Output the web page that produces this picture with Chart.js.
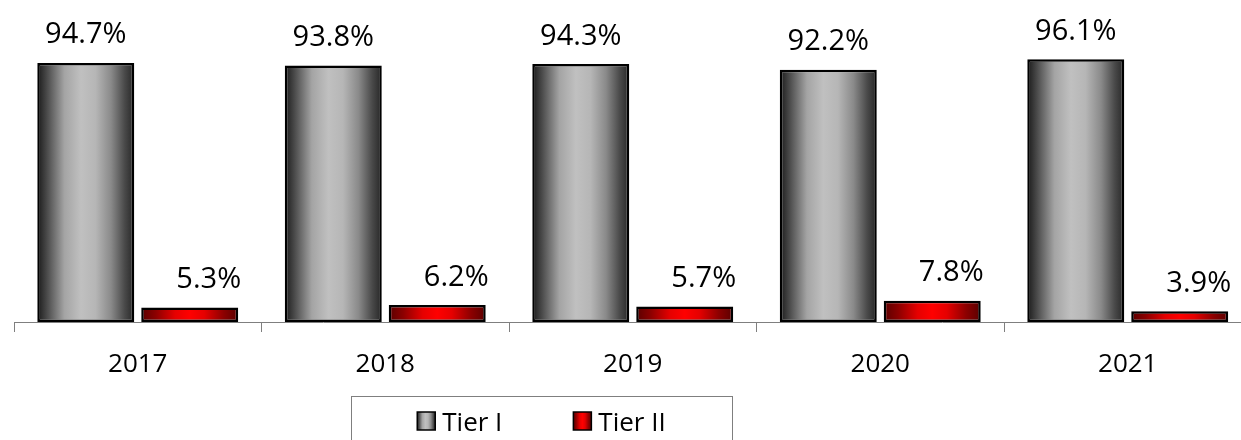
<!DOCTYPE html>
<html>
<head>
<meta charset="utf-8">
<script src="https://cdn.jsdelivr.net/npm/chart.js@4.4.1/dist/chart.umd.min.js"></script>
<style>
  html, body { margin: 0; padding: 0; background: #ffffff; overflow: hidden; }
  #wrap { width: 1241px; height: 440px; position: relative; overflow: hidden; }
  #chart { position: absolute; left: 0; top: 0; }
</style>
</head>
<body>
<div id="wrap"><canvas id="chart" width="1252" height="440"></canvas></div>
<script>
// Share of capital by tier, per year
const years = ['2017', '2018', '2019', '2020', '2021'];
const tierI = [94.7, 93.8, 94.3, 92.2, 96.1];
const tierII = [5.3, 6.2, 5.7, 7.8, 3.9];
const seriesNames = ['Tier I', 'Tier II'];

const FONT = '"Open Sans", "Noto Sans", sans-serif';
const CAT_PCT = 0.84;
const BAR_PCT = 0.933;

// Horizontal "cylinder" shading used for bars and legend swatches
const grayStops = [
  [0, '#1a1a1a'], [0.1, '#4a4a4a'], [0.28, '#a4a4a4'], [0.45, '#c0c0c0'],
  [0.6, '#b6b6b6'], [0.76, '#8a8a8a'], [0.9, '#4a4a4a'], [1, '#262626']
];
const redStops = [
  [0, '#5a0000'], [0.15, '#8c0000'], [0.35, '#e60000'], [0.5, '#ff0000'],
  [0.65, '#e60000'], [0.85, '#8c0000'], [1, '#5a0000']
];

function makeGradient(c2d, x0, x1, stops) {
  const g = c2d.createLinearGradient(x0, 0, x1, 0);
  stops.forEach(([o, col]) => g.addColorStop(o, col));
  return g;
}

// Gradient spanning each bar, located through the category scale
function barFill(stops) {
  return (ctx) => {
    const chart = ctx.chart;
    const xs = chart.scales.x;
    if (ctx.type !== 'data' || !xs || !chart.chartArea) return stops[3][1];
    const n = chart.data.labels.length;
    const nds = chart.data.datasets.length;
    const cat = (xs.right - xs.left) / n;
    const slot = cat * CAT_PCT / nds;
    const center = xs.getPixelForValue(ctx.dataIndex) + (ctx.datasetIndex - (nds - 1) / 2) * slot;
    const half = slot * BAR_PCT / 2;
    return makeGradient(chart.ctx, center - half, center + half, stops);
  };
}

// Percent labels above the bars
const valueLabels = {
  id: 'valueLabels',
  afterDatasetsDraw(chart, args, opts) {
    const c = chart.ctx;
    c.save();
    c.font = `${opts.size}px ${FONT}`;
    c.fillStyle = '#000000';
    c.textAlign = 'center';
    c.textBaseline = 'alphabetic';
    chart.data.datasets.forEach((ds, di) => {
      const meta = chart.getDatasetMeta(di);
      const shift = (opts.shift && opts.shift[di]) || 0;
      meta.data.forEach((el, i) => {
        c.fillText(ds.data[i].toFixed(1) + '%', el.x + shift, el.y - opts.gap);
      });
    });
    c.restore();
  }
};

// Boxed legend under the axis
const boxedLegend = {
  id: 'boxedLegend',
  afterDraw(chart, args, opts) {
    const c = chart.ctx;
    c.save();
    c.strokeStyle = '#7f7f7f';
    c.lineWidth = 1;
    c.strokeRect(opts.left + 0.5, opts.top + 0.5, opts.right - opts.left, opts.height);
    c.font = `${opts.size}px ${FONT}`;
    c.textBaseline = 'alphabetic';
    c.textAlign = 'left';
    const items = chart.data.datasets.map((ds) => ({
      label: ds.label, stops: ds.swatchStops, w: c.measureText(ds.label).width
    }));
    let total = 0;
    items.forEach((it, k) => {
      total += opts.box + opts.textGap + it.w + (k > 0 ? opts.itemGap : 0);
    });
    let x = (opts.left + opts.right) / 2 - total / 2;
    items.forEach((it) => {
      const y = opts.boxTop;
      c.fillStyle = makeGradient(c, x, x + opts.box, it.stops);
      c.fillRect(x, y, opts.box, opts.box);
      c.strokeStyle = '#000000';
      c.lineWidth = 1.5;
      c.strokeRect(x, y, opts.box, opts.box);
      c.fillStyle = '#000000';
      c.fillText(it.label, x + opts.box + opts.textGap, opts.baseline);
      x += opts.box + opts.textGap + it.w + opts.itemGap;
    });
    c.restore();
  }
};

new Chart(document.getElementById('chart'), {
  type: 'bar',
  data: {
    labels: years,
    datasets: [
      {
        label: seriesNames[0],
        data: tierI,
        backgroundColor: barFill(grayStops),
        swatchStops: grayStops,
        borderColor: '#000000',
        borderWidth: 2.5,
        borderSkipped: false
      },
      {
        label: seriesNames[1],
        data: tierII,
        backgroundColor: barFill(redStops),
        swatchStops: redStops,
        borderColor: '#000000',
        borderWidth: 2.5,
        borderSkipped: false
      }
    ]
  },
  options: {
    responsive: false,
    animation: false,
    events: [],
    categoryPercentage: CAT_PCT,
    barPercentage: BAR_PCT,
    layout: { padding: { left: 14, right: 0.5, top: 48.5, bottom: 58 } },
    scales: {
      x: {
        offset: true,
        grid: {
          offset: true,
          drawOnChartArea: false,
          drawTicks: true,
          tickLength: 10,
          color: '#7f7f7f',
          lineWidth: 1
        },
        border: { display: true, color: '#7f7f7f', width: 1 },
        ticks: {
          color: '#000000',
          font: { family: FONT, size: 26 },
          padding: 17,
          maxRotation: 0
        },
        afterFit(scale) { scale.height = 60; }
      },
      y: {
        display: false,
        min: 0,
        max: 100
      }
    },
    plugins: {
      legend: { display: false },
      tooltip: { enabled: false },
      valueLabels: { size: 29, gap: 19.5, shift: [0, 19] },
      boxedLegend: {
        left: 351, right: 732, top: 396, height: 60,
        box: 18, boxTop: 412, textGap: 7, itemGap: 71,
        size: 26, baseline: 431
      }
    }
  },
  plugins: [valueLabels, boxedLegend]
});
</script>
</body>
</html>
